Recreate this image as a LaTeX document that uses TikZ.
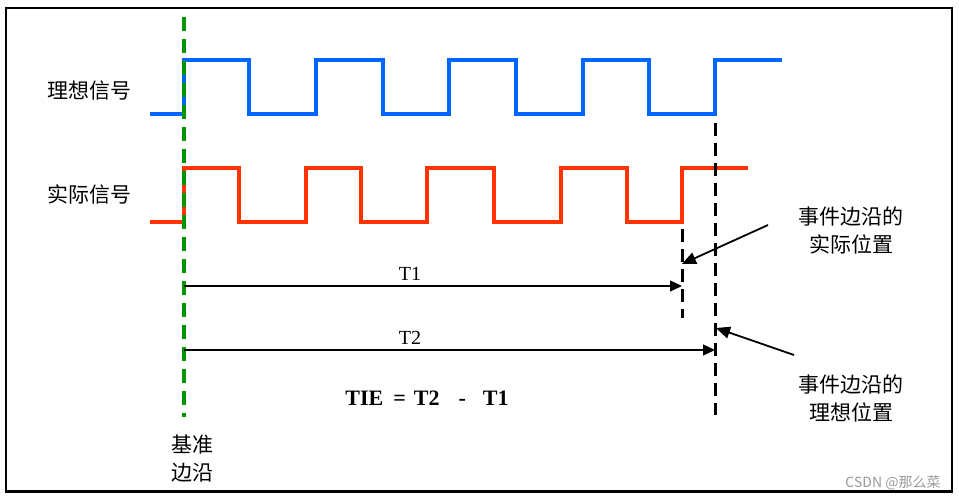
\documentclass[tikz,border=0pt]{standalone}
\usepackage{fontspec}
\setmainfont{Liberation Serif}
\newfontfamily\cjk{Noto Sans CJK SC}
\usetikzlibrary{arrows.meta}
\definecolor{sigblue}{RGB}{0,102,255}
\definecolor{sigred}{RGB}{255,51,0}
\definecolor{refgreen}{RGB}{0,150,0}
\begin{document}
\begin{tikzpicture}[x=1pt,y=-1pt,
  wave/.style={line width=3.6pt,line join=miter,line cap=butt},
  refline/.style={refgreen,line width=3.5pt,dash pattern=on 14pt off 8pt},
  edgeline/.style={black,line width=3pt,dash pattern=on 13pt off 7pt},
  tarrow/.style={line width=1.3pt,-{Triangle[length=12pt,width=11pt]}},
  noteline/.style={line width=1.8pt,-{Triangle[length=14pt,width=12pt]}},
  cjklabel/.style={font=\cjk\fontsize{21}{28}\selectfont,inner sep=0pt,align=center},
  tlabel/.style={font=\fontsize{20}{24}\selectfont,inner sep=0pt}
]
\useasboundingbox (0,0) rectangle (959,500);
\fill[white] (0,0) rectangle (959,500);
\draw[line width=2.7pt] (6,8) rectangle (952,491.5);

% ideal signal
\draw[wave,sigblue] (150,114) -- (184,114) -- (184,60) -- (249,60) -- (249,114) -- (316,114) -- (316,60) -- (383,60) -- (383,114) -- (449,114) -- (449,60) -- (516,60) -- (516,114) -- (583,114) -- (583,60) -- (649,60) -- (649,114) -- (715,114) -- (715,60) -- (782,60);
% actual signal
\draw[wave,sigred] (150,222) -- (184,222) -- (184,168) -- (239,168) -- (239,222) -- (306,222) -- (306,168) -- (361,168) -- (361,222) -- (427,222) -- (427,168) -- (494,168) -- (494,222) -- (561,222) -- (561,168) -- (627,168) -- (627,222) -- (682,222) -- (682,168) -- (748,168);

% reference edge
\coordinate (gtop) at (184,17);
\coordinate (gbot) at (184,417);
\draw[refline] (gtop) -- (gbot);

% actual and ideal edge positions
\coordinate (atop) at (682,229);
\coordinate (abot) at (682,318);
\coordinate (itop) at (715,123);
\coordinate (ibot) at (715,415);
\draw[edgeline] (atop) -- (abot);
\draw[edgeline] (itop) -- (ibot);

% T1, T2
\coordinate (t1s) at (184,286);
\coordinate (t1e) at (682,286);
\coordinate (t2s) at (184,350);
\coordinate (t2e) at (715,350);
\draw[tarrow] (t1s) -- (t1e);
\draw[tarrow] (t2s) -- (t2e);
\node[tlabel] (t1lab) at (410,274) {T1};
\node[tlabel] (t2lab) at (410,338) {T2};
\node[inner sep=0pt,font=\bfseries\fontsize{22}{26}\selectfont] (tie) at (427,398.5) {TIE\hspace{10pt}=\hspace{8pt}T2\hspace{19pt}-\hspace{17pt}T1};

% labels
\node[cjklabel] (ideal) at (89,91) {理想信号};
\node[cjklabel] (actual) at (89,194) {实际信号};
\node[cjklabel] (ref) at (192,459) {基准\\边沿};
\node[cjklabel] (noteA) at (851,230) {事件边沿的\\实际位置};
\node[cjklabel] (noteI) at (851,398) {事件边沿的\\理想位置};

% annotation arrows
\coordinate (naS) at (768,225);
\coordinate (naE) at (682,264);
\coordinate (niS) at (794,355);
\coordinate (niE) at (716,328);
\draw[noteline] (naS) -- (naE);
\draw[noteline] (niS) -- (niE);

% watermark
\node[inner sep=0pt,font=\cjk\fontsize{14}{16}\selectfont,text=black!40] (wm) at (893,483) {CSDN @那么菜};
\end{tikzpicture}
\end{document}
